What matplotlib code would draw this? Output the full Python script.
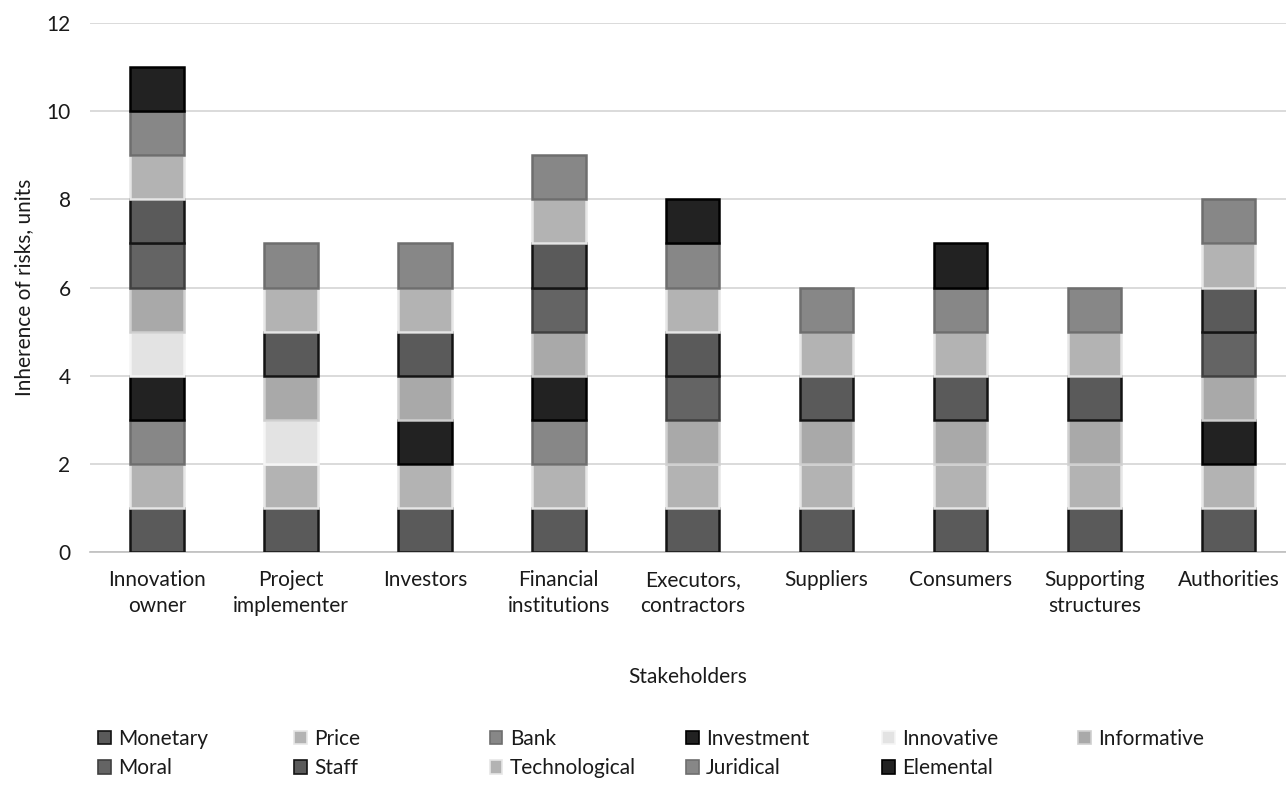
import numpy as np
import matplotlib
matplotlib.use("Agg")
import matplotlib.pyplot as plt
from matplotlib.patches import Patch

plt.rcParams['font.family'] = ['Lato', 'DejaVu Sans']

stakeholders = ["Innovation\nowner", "Project\nimplementer", "Investors", "Financial\ninstitutions",
                "Executors,\ncontractors", "Suppliers", "Consumers", "Supporting\nstructures", "Authorities"]

# 1 = risk inherent to the stakeholder
monetary      = [1, 1, 1, 1, 1, 1, 1, 1, 1]
price         = [1, 1, 1, 1, 1, 1, 1, 1, 1]
bank          = [1, 0, 0, 1, 0, 0, 0, 0, 0]
investment    = [1, 0, 1, 1, 0, 0, 0, 0, 1]
innovative    = [1, 1, 0, 0, 0, 0, 0, 0, 0]
informative   = [1, 1, 1, 1, 1, 1, 1, 1, 1]
moral         = [1, 0, 0, 1, 1, 0, 0, 0, 1]
staff         = [1, 1, 1, 1, 1, 1, 1, 1, 1]
technological = [1, 1, 1, 1, 1, 1, 1, 1, 1]
juridical     = [1, 1, 1, 1, 1, 1, 1, 1, 1]
elemental     = [1, 0, 0, 0, 1, 0, 1, 0, 0]

series = [("Monetary", monetary), ("Price", price), ("Bank", bank), ("Investment", investment),
          ("Innovative", innovative), ("Informative", informative), ("Moral", moral),
          ("Staff", staff), ("Technological", technological), ("Juridical", juridical),
          ("Elemental", elemental)]

# face colour, edge colour
styles = {
    "Monetary": ("#5a5a5a", "#141414"),
    "Price": ("#b3b3b3", "#e6e6e6"),
    "Bank": ("#878787", "#6e6e6e"),
    "Investment": ("#222222", "#000000"),
    "Innovative": ("#e3e3e3", "#f5f5f5"),
    "Informative": ("#a9a9a9", "#cfcfcf"),
    "Moral": ("#646464", "#404040"),
    "Staff": ("#5a5a5a", "#141414"),
    "Technological": ("#b3b3b3", "#e6e6e6"),
    "Juridical": ("#878787", "#6e6e6e"),
    "Elemental": ("#222222", "#000000"),
}

FS = 15

fig = plt.figure(figsize=(12.86, 7.85), dpi=100)
ax = fig.add_axes([90/1286, 1-552/785, 1196/1286, 529/785])

x = np.arange(len(stakeholders))
bottom = np.zeros(len(stakeholders))
handles = {}
for name, vals in series:
    fc, ec = styles[name]
    vals = np.array(vals, dtype=float)
    keep = vals > 0  # skip empty segments, otherwise their edges show up
    ax.bar(x[keep], vals[keep], 0.4, bottom=bottom[keep], color=fc, edgecolor=ec,
           linewidth=1.8, zorder=3)
    bottom += vals
    handles[name] = Patch(facecolor=fc, edgecolor=ec, linewidth=1.2)

ax.set_xlim(-0.5, 8.43)
ax.set_ylim(0, 12)
ax.set_yticks(range(0, 13, 2))
ax.set_xticks(x)
ax.set_xticklabels(stakeholders, fontsize=FS, linespacing=1.35)
ax.tick_params(axis='both', length=0, labelsize=FS, colors='#1a1a1a')
ax.tick_params(axis='x', pad=13)
ax.tick_params(axis='y', pad=14)
ax.grid(axis='y', color='#d4d4d4', linewidth=1.2, zorder=0)
for s in ['top', 'right', 'left']:
    ax.spines[s].set_visible(False)
ax.spines['bottom'].set_color('#bfbfbf')
ax.spines['bottom'].set_linewidth(1.2)

ax.set_ylabel("Inherence of risks, units", fontsize=FS, color='#1a1a1a', labelpad=9)
fig.text(688/1286, 1-677/785, "Stakeholders", fontsize=FS, color='#1a1a1a', ha='center', va='center')

# legend, one per column so the columns are evenly spaced like the original
columns = [["Monetary", "Moral"], ["Price", "Staff"], ["Bank", "Technological"],
           ["Investment", "Juridical"], ["Innovative", "Elemental"], ["Informative"]]
col_x = [98, 294, 490, 686, 882, 1078]
for names, cx in zip(columns, col_x):
    fig.legend([handles[n] for n in names], names, loc='upper left',
               bbox_to_anchor=(cx/1286, 1-729/785), frameon=False, fontsize=FS,
               handlelength=0.6, handleheight=0.6, handletextpad=0.35,
               labelspacing=0.45, borderpad=0, borderaxespad=0, labelcolor='#1a1a1a')

fig.savefig("out.png", dpi=100)
